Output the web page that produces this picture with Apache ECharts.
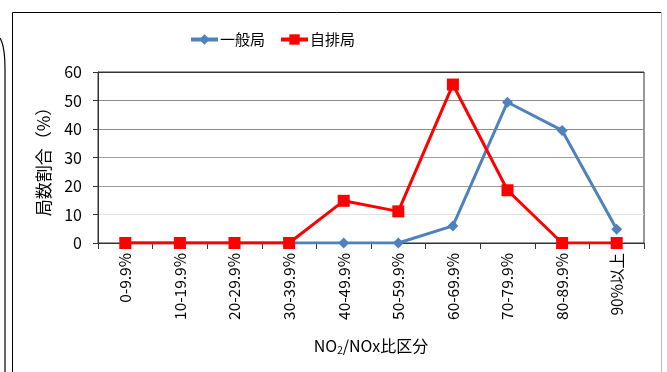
<!DOCTYPE html>
<html>
<head>
<meta charset="utf-8">
<script src="https://cdn.jsdelivr.net/npm/echarts@6/dist/echarts.min.js"></script>
<style>
  html, body { margin: 0; padding: 0; background: #fff; }
  #chart { width: 667px; height: 372px; }
</style>
</head>
<body>
<div id="chart"></div>
<script>
// NO2/NOx ratio bands
const categories = ['0-9.9%', '10-19.9%', '20-29.9%', '30-39.9%', '40-49.9%',
                    '50-59.9%', '60-69.9%', '70-79.9%', '80-89.9%', '90%以上'];
// share of stations (%) per band
const generalStations = [0, 0, 0, 0, 0, 0, 6.0, 49.4, 39.5, 4.8];
const roadsideStations = [0, 0, 0, 0, 14.8, 11.1, 55.6, 18.5, 0, 0];
const yTicks = { min: 0, max: 60, interval: 10 };

const FONT = '"Noto Sans CJK JP", "Noto Sans", sans-serif';
const chart = echarts.init(document.getElementById('chart'));

chart.setOption({
  animation: false,
  textStyle: { fontFamily: FONT },
  graphic: [
    // outer panel frame
    { type: 'line', shape: { x1: 12.5, y1: 12.5, x2: 661, y2: 12.5 }, style: { stroke: '#000', lineWidth: 1 } },
    { type: 'line', shape: { x1: 12.5, y1: 12.5, x2: 12.5, y2: 372 }, style: { stroke: '#000', lineWidth: 1 } },
    { type: 'line', shape: { x1: 661.5, y1: 12.5, x2: 661.5, y2: 372 }, style: { stroke: '#777', lineWidth: 1, lineDash: [1, 1] } },
    // rounded edge of the surrounding box
    { type: 'bezierCurve', shape: { x1: 0, y1: 38, cpx1: 5, cpy1: 46, x2: 5, y2: 70 }, style: { stroke: '#000', lineWidth: 1.2, fill: null } },
    { type: 'line', shape: { x1: 5, y1: 70, x2: 5, y2: 372 }, style: { stroke: '#000', lineWidth: 1.2 } }
  ],
  legend: {
    top: 27,
    left: 184,
    itemGap: 14,
    itemWidth: 27,
    itemHeight: 13,
    lineStyle: { width: 4 },
    textStyle: { fontSize: 15, color: '#000', fontFamily: FONT, padding: [0, 0, 0, -3] },
    data: ['一般局', '自排局']
  },
  grid: {
    left: 98, right: 23, top: 72, bottom: 129,
    show: true, borderColor: '#333', borderWidth: 1, backgroundColor: 'transparent'
  },
  xAxis: {
    type: 'category',
    data: categories,
    boundaryGap: true,
    name: '{a|NO}{s|2}{a|/NOx比区分}',
    nameLocation: 'middle',
    nameGap: 94,
    nameTextStyle: {
      rich: {
        a: { fontSize: 16, color: '#000', fontFamily: FONT },
        s: { fontSize: 10, color: '#000', fontFamily: FONT, verticalAlign: 'bottom', padding: [8, 0, 0, 0] }
      }
    },
    axisLine: { lineStyle: { color: '#333', width: 1 } },
    axisTick: { show: true, length: 6, lineStyle: { color: '#333' } },
    axisLabel: { rotate: 90, fontSize: 15.5, color: '#000', margin: 10, interval: 0, fontFamily: FONT },
    splitLine: { show: false }
  },
  yAxis: {
    type: 'value',
    min: yTicks.min, max: yTicks.max, interval: yTicks.interval,
    name: '局数割合（%）',
    nameLocation: 'middle',
    nameRotate: 90,
    nameGap: 46,
    nameTextStyle: { fontSize: 17, color: '#000', fontFamily: FONT },
    axisLine: { show: true, lineStyle: { color: '#333', width: 1 } },
    axisTick: { show: true, length: 5, lineStyle: { color: '#333' } },
    axisLabel: { fontSize: 16, color: '#000', margin: 16, fontFamily: FONT },
    splitLine: {
      show: true,
      lineStyle: { color: ['#333', '#e2e2e2', '#9a9a9a', '#a0a0a0', '#8a8a8a', '#8a8a8a', '#333'], width: 1.2 }
    }
  },
  series: [
    {
      name: '一般局',
      type: 'line',
      data: generalStations,
      symbol: 'diamond',
      symbolSize: 11,
      itemStyle: { color: '#4F81BD' },
      lineStyle: { color: '#4F81BD', width: 3 },
      z: 2
    },
    {
      name: '自排局',
      type: 'line',
      data: roadsideStations,
      symbol: 'rect',
      symbolSize: 12,
      itemStyle: { color: '#FF0000' },
      lineStyle: { color: '#FF0000', width: 3 },
      z: 3
    }
  ]
});
</script>
</body>
</html>
